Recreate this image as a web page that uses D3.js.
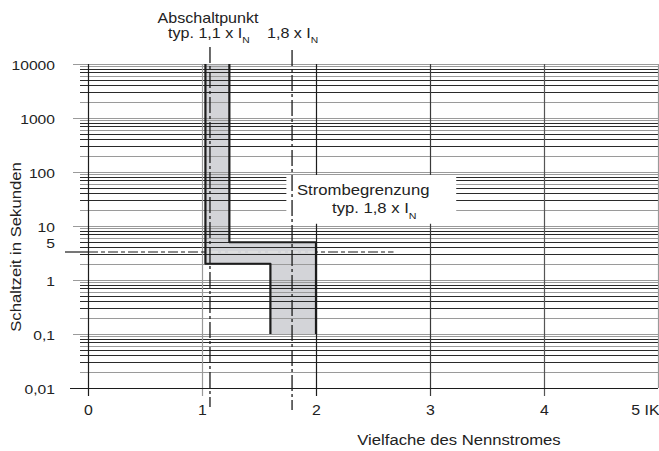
<!DOCTYPE html>
<html><head><meta charset="utf-8">
<script src="https://cdn.jsdelivr.net/npm/d3@7"></script>
<style>html,body{margin:0;padding:0;background:#fff;} svg{display:block;font-family:"Liberation Sans",Arial,Helvetica,sans-serif;}</style>
</head><body><svg id="c" width="659" height="451"></svg>
<script>
// ---- data ----
const xTicks = [0, 1, 2, 3, 4, 5];
const xTickLabels = ["0", "1", "2", "3", "4", "5 IK"];
const yMajor = [0.01, 0.1, 1, 10, 100, 1000, 10000];
const yMajorLabels = ["0,01", "0,1", "1", "10", "100", "1000", "10000"];
const yExtraTicks = [5];
const yExtraLabels = ["5"];
const minorMult = [2, 3, 4, 5, 6, 7, 8, 9];
const minorGrayMult = [2, 6, 9];
// shaded tripping band (x = multiple of I_N, y = seconds)
const leftEdge = [[1.03, 10000], [1.03, 2], [1.6, 2], [1.6, 0.1]];
const rightEdge = [[1.24, 10000], [1.24, 5], [2.0, 5], [2.0, 0.1]];
const refLinesX = [1.07, 1.79];      // Abschaltpunkt 1,1 x IN / 1,8 x IN
const refLineY = 3.3;
const refLineYExtent = [-0.2, 2.68];
const boxX = [1.74, 3.23];
const boxY = [11, 88];

// ---- scales ----
const SX = 1.15; // horizontal text stretch of the original
const x = d3.scaleLinear().domain([0, 5]).range([88, 658]);
const y = d3.scaleLog().domain([0.01, 10000]).range([388, 64]);
const svg = d3.select("#c");
const ink = "#1c1c1c", gray = "#9a9a9a";

// shaded band
const band = leftEdge.concat(rightEdge.slice().reverse());
const bandPath = d3.line().x(d => x(d[0])).y(d => y(d[1]))(band) + "Z";
svg.append("path").attr("d", bandPath).attr("fill", "#d3d4d8");
svg.append("clipPath").attr("id", "bandClip").append("path").attr("d", bandPath);

// horizontal grid
const decades = yMajor.slice(0, -1);
const minor = [];
decades.forEach(d => minorMult.forEach(m => minor.push({v: d * m, gray: minorGrayMult.includes(m)})));
svg.append("g").selectAll("line").data(minor).join("line")
  .attr("x1", 80).attr("x2", x(5))
  .attr("y1", d => Math.round(y(d.v)) + 0.5).attr("y2", d => Math.round(y(d.v)) + 0.5)
  .attr("stroke", d => d.gray ? gray : "#2a2a2a").attr("stroke-width", 1);
svg.append("g").selectAll("line").data(yMajor).join("line")
  .attr("x1", 73).attr("x2", x(5))
  .attr("y1", d => Math.round(y(d)) + 0.5).attr("y2", d => Math.round(y(d)) + 0.5)
  .attr("stroke", (d, i) => i === 0 ? ink : gray).attr("stroke-width", 1.2);

// vertical grid
const vColors = [ink, gray, ink, "#3a3a3a", "#555", gray];
svg.append("g").selectAll("line").data(xTicks).join("line")
  .attr("x1", d => Math.round(x(d)) + 0.5).attr("x2", d => Math.round(x(d)) + 0.5)
  .attr("y1", y(10000)).attr("y2", d => d === 5 ? y(0.01) : y(0.01) + 8)
  .attr("stroke", (d, i) => vColors[i]).attr("stroke-width", 1.2);

// horizontal dash-dot reference line
svg.append("line").attr("x1", 65).attr("x2", x(0))
  .attr("y1", y(refLineY)).attr("y2", y(refLineY)).attr("stroke", ink).attr("stroke-width", 1.2);
svg.append("line").attr("x1", x(0)).attr("x2", x(refLineYExtent[1]))
  .attr("y1", y(refLineY)).attr("y2", y(refLineY))
  .attr("stroke", ink).attr("stroke-width", 1.2).attr("stroke-dasharray", "10,3,4,3");
svg.append("line").attr("x1", x(0)).attr("x2", x(refLineYExtent[1]))
  .attr("y1", y(refLineY)).attr("y2", y(refLineY)).attr("clip-path", "url(#bandClip)")
  .attr("stroke", "#fff").attr("stroke-width", 1.4).attr("stroke-dasharray", "10,3,4,3");

// white label box
svg.append("rect").attr("x", x(boxX[0])).attr("width", x(boxX[1]) - x(boxX[0]))
  .attr("y", y(boxY[1])).attr("height", y(boxY[0]) - y(boxY[1])).attr("fill", "#fff");

// band boundaries
const ln = d3.line().x(d => x(d[0])).y(d => y(d[1]));
[leftEdge, rightEdge].forEach(e => svg.append("path").attr("d", ln(e))
  .attr("fill", "none").attr("stroke", ink).attr("stroke-width", 2.2)
  .attr("stroke-linejoin", "round"));

// vertical dash-dot reference lines
svg.append("g").selectAll("line").data(refLinesX).join("line")
  .attr("x1", d => x(d)).attr("x2", d => x(d))
  .attr("y1", (d, i) => [47, 50][i]).attr("y2", (d, i) => [407, 410][i])
  .attr("stroke", ink).attr("stroke-width", 1.3).attr("stroke-dasharray", "16,3,3,3");

// axes (labels)
const yAx = svg.append("g").attr("transform", `translate(${x(0)},0)`)
  .call(d3.axisLeft(y).tickValues(yMajor.concat(yExtraTicks)).tickSize(0)
    .tickFormat(d => { const i = yMajor.indexOf(d); return i >= 0 ? yMajorLabels[i] : yExtraLabels[yExtraTicks.indexOf(d)]; }));
yAx.select(".domain").remove();
yAx.selectAll("text").attr("x", null).attr("dy", null)
  .attr("transform", `translate(-33,0.5) scale(${SX},1)`)
  .attr("dominant-baseline", "central")
  .attr("font-size", 13.6).attr("font-family", "Liberation Sans, Arial, sans-serif").attr("fill", "#222");

const xAx = svg.append("g").attr("transform", `translate(0,${y(0.01)})`)
  .call(d3.axisBottom(x).tickValues(xTicks).tickSize(0).tickFormat((d, i) => xTickLabels[i]));
xAx.select(".domain").remove();
xAx.selectAll("text").attr("y", null).attr("dy", null)
  .attr("transform", (d, i) => i === xTicks.length - 1 ? `translate(1,26.5) scale(${SX},1)` : `translate(0,27) scale(${SX},1)`)
  .attr("text-anchor", (d, i) => i === xTicks.length - 1 ? "end" : "middle")
  .attr("font-size", 13.8).attr("font-family", "Liberation Sans, Arial, sans-serif").attr("fill", "#222");
// axis line along the bottom
svg.append("line").attr("x1", 70).attr("x2", x(5)).attr("y1", y(0.01) + 0.5).attr("y2", y(0.01) + 0.5)
  .attr("stroke", ink).attr("stroke-width", 1.2);

// titles & annotations
function txt(str, tx, ty, size, anchor, rot, sub) {
  const t = svg.append("text")
    .attr("transform", `translate(${tx},${ty})${rot ? ` rotate(${rot})` : ""} scale(${SX},1)`)
    .attr("font-size", size).attr("text-anchor", anchor).attr("fill", "#222");
  t.append("tspan").text(str);
  if (sub) t.append("tspan").attr("font-size", size * 0.64).attr("dy", 5.5).text(sub);
  return t;
}
txt("Schaltzeit in Sekunden", 21, 247, 14.5, "middle", -90);
txt("Vielfache des Nennstromes", 459, 445, 14.5, "middle");
txt("Abschaltpunkt", 208, 22.5, 14, "middle");
txt("typ. 1,1 x I", 168, 37.5, 14, "start", 0, "N");
txt("1,8 x I", 267, 37.5, 14, "start", 0, "N");
txt("Strombegrenzung", 297, 195, 14.5, "start");
txt("typ. 1,8 x I", 332, 213, 14.5, "start", 0, "N");
</script></body></html>
